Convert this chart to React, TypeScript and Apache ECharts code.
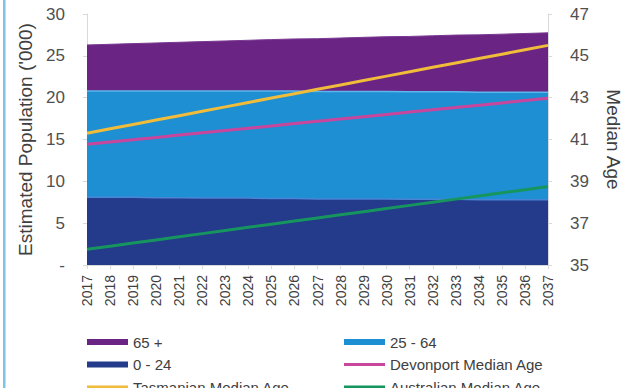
import React, { useEffect, useRef } from "react";
import * as echarts from "echarts";

const years = ["2017","2018","2019","2020","2021","2022","2023","2024","2025","2026","2027","2028","2029","2030","2031","2032","2033","2034","2035","2036","2037"];
const age0to24 = [8.1,8.1,8.1,8.05,8.05,8.0,8.0,8.0,7.95,7.95,7.9,7.9,7.9,7.9,7.85,7.85,7.85,7.8,7.8,7.8,7.8];
const age25to64 = [12.7,12.7,12.7,12.75,12.75,12.8,12.8,12.8,12.85,12.85,12.85,12.85,12.85,12.85,12.85,12.85,12.85,12.85,12.85,12.85,12.85];
const age65plus = [5.5,5.58,5.66,5.74,5.82,5.9,5.98,6.06,6.14,6.22,6.3,6.38,6.46,6.54,6.62,6.7,6.78,6.86,6.94,7.02,7.1];
const tasMedian = [41.3,41.51,41.72,41.93,42.14,42.35,42.56,42.77,42.98,43.19,43.4,43.61,43.82,44.03,44.24,44.45,44.66,44.87,45.08,45.29,45.5];
const devMedian = [40.77,40.88,40.99,41.1,41.21,41.32,41.43,41.54,41.65,41.76,41.87,41.98,42.09,42.2,42.31,42.42,42.53,42.64,42.75,42.86,42.97];
const ausMedian = [35.75,35.9,36.05,36.2,36.35,36.5,36.65,36.8,36.95,37.1,37.25,37.4,37.55,37.7,37.85,38.0,38.15,38.3,38.45,38.6,38.75];

const FONT = "'Liberation Sans', Arial, sans-serif";
const C65 = "#6a2483";
const C25 = "#1f8fd3";
const C0 = "#243a8a";
const CTAS = "#f0bc3a";
const CDEV = "#c8469c";
const CAUS = "#16955f";
const LINE_ICON = "path://M0,0M0,6M0,1.5H41V4.5H0Z";

export default function App() {
  const ref = useRef<HTMLDivElement>(null);
  useEffect(() => {
    if (!ref.current) return;
    const chart = echarts.init(ref.current, null, { renderer: "svg" });
    const axisLabelStyle = { color: "#505050", fontSize: 17, fontFamily: FONT };
    const legendCommon = {
      orient: "vertical", top: 329, height: 90, itemWidth: 41, itemHeight: 6, itemGap: 6.5,
      textStyle: { color: "#404040", fontSize: 15, fontFamily: FONT, lineHeight: 16 },
    };
    chart.setOption({
      animation: false,
      backgroundColor: "#ffffff",
      textStyle: { fontFamily: FONT },
      graphic: [
        { type: "rect", left: 3, top: 0, shape: { width: 2.5, height: 388 }, style: { fill: "#7fc4e4" } },
      ],
      grid: { left: 87, right: 83, top: 14, bottom: 123, containLabel: false },
      legend: [
        {
          ...legendCommon, left: 82,
          data: [
            { name: "65 +", icon: "rect" },
            { name: "0 - 24", icon: "rect" },
            { name: "Tasmanian Median Age", icon: LINE_ICON },
          ],
        },
        {
          ...legendCommon, left: 339,
          data: [
            { name: "25 - 64", icon: "rect" },
            { name: "Devonport Median Age", icon: LINE_ICON },
            { name: "Australian Median Age", icon: LINE_ICON },
          ],
        },
      ],
      xAxis: {
        type: "category",
        data: years,
        boundaryGap: false,
        axisLine: { show: true, lineStyle: { color: "#d9d9d9" } },
        axisTick: { show: true, length: 4, lineStyle: { color: "#d9d9d9" } },
        axisLabel: { rotate: 90, interval: 0, margin: 10, color: "#404040", fontSize: 14, fontFamily: FONT },
      },
      yAxis: [
        {
          type: "value", min: 0, max: 30, interval: 5,
          name: "Estimated Population ('000)", nameLocation: "middle", nameGap: 52,
          nameTextStyle: { color: "#404040", fontSize: 19, fontFamily: FONT },
          axisLine: { show: true, lineStyle: { color: "#d9d9d9" } },
          axisTick: { show: true, length: 4, lineStyle: { color: "#d9d9d9" } },
          axisLabel: { ...axisLabelStyle, margin: 22, formatter: (v: number) => (v === 0 ? "-" : String(v)) },
          splitLine: { show: false },
        },
        {
          type: "value", min: 35, max: 47, alignTicks: true, position: "right",
          name: "Median Age", nameLocation: "middle", nameGap: 56, nameRotate: -90,
          nameTextStyle: { color: "#404040", fontSize: 19, fontFamily: FONT },
          axisLine: { show: true, lineStyle: { color: "#d9d9d9" } },
          axisTick: { show: true, length: 4, lineStyle: { color: "#d9d9d9" } },
          axisLabel: { ...axisLabelStyle, margin: 22 },
          splitLine: { show: false },
        },
      ],
      series: [
        {
          name: "0 - 24", type: "line", stack: "pop", data: age0to24, symbol: "none",
          color: C0, itemStyle: { color: C0 },
          lineStyle: { width: 1.5, color: "#4a84d6" }, areaStyle: { color: C0, opacity: 1 }, z: 1,
        },
        {
          name: "25 - 64", type: "line", stack: "pop", data: age25to64, symbol: "none",
          color: C25, itemStyle: { color: C25 },
          lineStyle: { width: 1.5, color: "#5db7ea" }, areaStyle: { color: C25, opacity: 1 }, z: 1,
        },
        {
          name: "65 +", type: "line", stack: "pop", data: age65plus, symbol: "none",
          color: C65, itemStyle: { color: C65 },
          lineStyle: { width: 1, color: "#7a3a92" }, areaStyle: { color: C65, opacity: 1 }, z: 1,
        },
        {
          name: "Devonport Median Age", type: "line", yAxisIndex: 1, data: devMedian, symbol: "none",
          color: CDEV, itemStyle: { color: CDEV }, lineStyle: { width: 3, color: CDEV }, z: 3,
        },
        {
          name: "Tasmanian Median Age", type: "line", yAxisIndex: 1, data: tasMedian, symbol: "none",
          color: CTAS, itemStyle: { color: CTAS }, lineStyle: { width: 3, color: CTAS }, z: 3,
        },
        {
          name: "Australian Median Age", type: "line", yAxisIndex: 1, data: ausMedian, symbol: "none",
          color: CAUS, itemStyle: { color: CAUS }, lineStyle: { width: 3, color: CAUS }, z: 3,
        },
      ],
    });
    return () => chart.dispose();
  }, []);
  return <div ref={ref} style={{ position: "absolute", left: 0, top: 0, width: 631, height: 388 }} />;
}
